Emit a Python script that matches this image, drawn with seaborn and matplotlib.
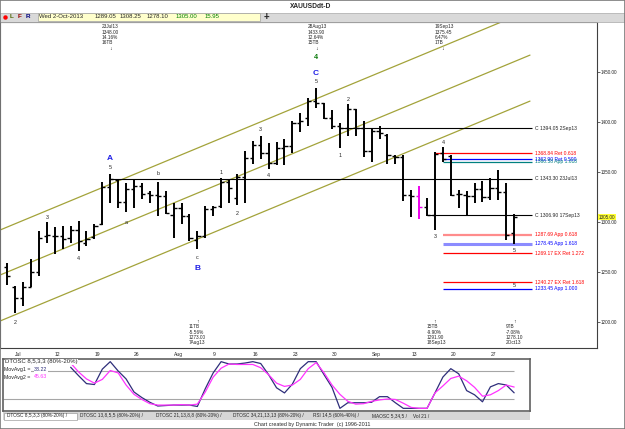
import numpy as np
import pandas as pd
import matplotlib
matplotlib.use("Agg")
import matplotlib.pyplot as plt
import matplotlib.transforms as mtransforms
from matplotlib.patches import Rectangle
from matplotlib.lines import Line2D
import seaborn as sns

sns.set_style("white")
plt.rcParams["font.family"] = ["Liberation Sans", "DejaVu Sans"]

# XAUUSD daily bars, 4 Jul 2013 - 2 Oct 2013
dates = pd.bdate_range("2013-07-04", "2013-10-02")
opens = [1255, 1235, 1224, 1235, 1250, 1286, 1286, 1286, 1284, 1292, 1279, 1285, 1298,
         1335, 1342, 1320, 1333, 1336, 1329, 1327, 1326, 1307, 1314, 1306, 1282, 1286,
         1313, 1316, 1340, 1324, 1345, 1364, 1377, 1369, 1359, 1374, 1376, 1399, 1404,
         1421, 1419, 1404, 1396, 1394, 1413, 1394, 1371, 1391, 1387, 1366, 1365, 1327,
         1326, 1315, 1307, 1369, 1366, 1328, 1327, 1326, 1333, 1325, 1334, 1330, 1289.05]
highs = [1259, 1236, 1240, 1263, 1291, 1300, 1295, 1296, 1296, 1301, 1291, 1298, 1340,
         1348, 1343, 1339, 1342, 1339, 1331, 1340, 1331, 1319, 1319, 1308, 1291, 1316,
         1316, 1344, 1343, 1348, 1371, 1381, 1386, 1379, 1380, 1383, 1401, 1409, 1424,
         1433.9, 1419, 1412, 1399, 1418, 1413, 1401, 1394, 1396, 1388, 1367, 1367, 1332,
         1336, 1324, 1370, 1375.45, 1367, 1332, 1331, 1339, 1341, 1344, 1352, 1339, 1308.25]
lows = [1237, 1209, 1216, 1235, 1246, 1279, 1268, 1273, 1279, 1271, 1276, 1283, 1297,
        1319, 1314, 1310, 1314, 1323, 1319, 1306, 1308, 1284, 1298, 1281, 1273, 1284,
        1306, 1314, 1319, 1317, 1319, 1358, 1363, 1353, 1357, 1357, 1369, 1390, 1396,
        1414, 1403, 1393, 1374, 1386, 1386, 1365, 1360, 1383, 1358, 1358, 1321, 1305,
        1303, 1306, 1291.9, 1360, 1326, 1314, 1306, 1319, 1320, 1322, 1322, 1282, 1278.1]
closes = [1246, 1224, 1235, 1250, 1284, 1287, 1286, 1283, 1292, 1281, 1283, 1296, 1335,
          1343.3, 1320, 1333, 1336, 1328, 1327, 1326, 1309, 1314, 1306, 1284, 1286, 1313,
          1315, 1340, 1334, 1345, 1364, 1377, 1369, 1359, 1374, 1376, 1399, 1401, 1421,
          1419, 1404, 1396, 1394.05, 1413, 1394, 1371, 1391, 1389, 1367, 1365, 1327, 1326,
          1315, 1306.9, 1368, 1363, 1327, 1328, 1326, 1333, 1325, 1334, 1330, 1287, 1305.0]
magenta_day = "2013-09-16"

# DTOSC 8,5,3,3 and its moving average, from 16 Jul
osc_start = "2013-07-16"
dtosc = [88, 70, 53, 51, 84, 100, 80, 63, 35, 23, 13, 5, 6, 7, 7, 7, 4, 42, 76, 100,
         95, 95, 97, 100, 96, 72, 44, 33, 52, 85, 100, 100, 72, 45, 0, 12, 12, 12, 13,
         25, 25, 12, 0, 0, 0, 0, 33, 67, 85, 74, 38, 29, 14, 46, 53, 50, 33.22]
dtosc_avg = [97, 78, 63, 54, 62, 81, 76, 50, 30, 19, 10, 7, 7, 7, 8, 7, 9, 35, 67, 86,
             95, 94, 94, 94, 87, 72, 54, 47, 50, 62, 85, 98, 76, 50, 30, 15, 9, 10, 15,
             18, 20, 19, 11, 2, 0, 0, 33, 48, 64, 69, 59, 45, 26, 29, 38, 50, 45.63]

# date axis
tick_dates = ["2013-07-05", "2013-07-12", "2013-07-19", "2013-07-26", "2013-08-02",
              "2013-08-09", "2013-08-16", "2013-08-23", "2013-08-30", "2013-09-06",
              "2013-09-13", "2013-09-20", "2013-09-27"]
tick_labels = ["Jul", "12", "19", "26", "Aug", "9", "16", "23", "30", "Sep", "13", "20", "27"]
price_ticks = [1200, 1250, 1300, 1350, 1400, 1450]

# trend channel (price at bar -1 and at bar 66)
channel_left = [1292.0, 1247.0, 1201.0]
channel_right = [1512.2, 1467.2, 1421.2]

# closing-price reference lines
close_levels = [("2013-09-02", 1394.05, "C 1394.05 2Sep13"),
                ("2013-07-23", 1343.30, "C 1343.30 23Jul13"),
                ("2013-09-17", 1306.90, "C 1306.90 17Sep13")]
# retracement / projection levels
fib_levels = [("2013-09-18", 1368.84, "1368.84 Ret 0.618", "#ff0000", "#ff0000", 0.9),
              ("2013-09-19", 1362.90, "1362.90 Ret 0.500", "#0000ff", "#0000ff", 0.9),
              ("2013-09-19", 1360.58, "1360.58 App 1.618", "#008080", "#008080", 0.9),
              ("2013-09-19", 1287.69, "1287.69 App 0.618", "#ff8c8c", "#ff0000", 1.6),
              ("2013-09-19", 1278.45, "1278.45 App 1.618", "#8c8cff", "#0000ff", 2.2),
              ("2013-09-19", 1269.17, "1269.17 EX Ret 1.272", "#ff0000", "#ff0000", 0.9),
              ("2013-09-19", 1240.27, "1240.27 EX Ret 1.618", "#ff0000", "#ff0000", 0.9),
              ("2013-09-19", 1233.45, "1233.45 App 1.000", "#0000ff", "#0000ff", 0.9)]

wave_labels = [("2013-07-05", 1200, "2"), ("2013-07-11", 1305, "3"), ("2013-07-17", 1264, "4"),
               ("2013-07-23", 1355, "5"), ("2013-07-25", 1300, "a"), ("2013-07-31", 1349, "b"),
               ("2013-08-07", 1265, "c"), ("2013-08-12", 1350, "1"), ("2013-08-14", 1309, "2"),
               ("2013-08-19", 1393, "3"), ("2013-08-20", 1347, "4"), ("2013-08-28", 1441, "5"),
               ("2013-09-02", 1367, "1"), ("2013-09-03", 1423, "2"), ("2013-09-18", 1286, "3"),
               ("2013-09-19", 1380, "4"), ("2013-10-02", 1272, "5"), ("2013-10-02", 1237, "5")]
abc_labels = [("2013-07-23", 1364, "A"), ("2013-08-07", 1254, "B"), ("2013-08-28", 1449, "C")]

top_notes = [("2013-07-23", ["23Jul13", "1348.00", "14.16%", "16TB"]),
             ("2013-08-28", ["28Aug13", "1433.90", "12.64%", "15TB"]),
             ("2013-09-19", ["19Sep13", "1375.45", "6.47%", "1TB"])]
bottom_notes = [("2013-08-07", ["11TB", "-5.56%", "1273.00", "7Aug13"]),
                ("2013-09-18", ["15TB", "-9.90%", "1291.90", "18Sep13"]),
                ("2013-10-02", ["9TB", "-7.08%", "1278.10", "2Oct13"])]

tabs = ["DTOSC 8,5,3,3 (80%-20%)", "DTOSC 13,8,5,5 (80%-20%)", "DTOSC 21,13,8,8 (80%-20%)",
        "DTOSC 34,21,13,13 (80%-20%)", "RSI 14,5 (60%-40%)", "MAOSC 5,34,5", "Vol 21"]
tab_x = [7, 80, 156, 233, 313, 372, 413]

# ---------------------------------------------------------------- layout
W, H = 625, 429
fig = plt.figure(figsize=(W / 100, H / 100), dpi=100)
fig.patch.set_facecolor("white")


def fy(py):
    return 1 - py / H


def ftext(px, py, s, **kw):
    kw.setdefault("va", "center")
    return fig.text(px / W, fy(py), s, **kw)


def bar_pos(d):
    return dates.get_loc(pd.Timestamp(d))


# title row and toolbar
fig.add_artist(Rectangle((0, fy(21.5)), 1, 9 / H, transform=fig.transFigure,
                         facecolor="#d9d9d9", edgecolor="#a8a8a8", lw=0.5))
fig.add_artist(Rectangle((37.7 / W, fy(20.7)), 222.3 / W, 7.4 / H, transform=fig.transFigure,
                         facecolor="#ffffcc", edgecolor="#a0a0a0", lw=0.5))
ftext(311, 6.5, "XAUUSDdt-D", ha="center", fontsize=4.8, fontweight="bold")
fig.add_artist(Line2D([5 / W], [fy(17)], marker="o", ms=2.2, color="red",
                      transform=fig.transFigure))
ftext(11.7, 17, "L", ha="center", fontsize=4.6, fontweight="bold", color="#4d6600")
ftext(20, 17, "F", ha="center", fontsize=4.6, fontweight="bold", color="#990000")
ftext(28.3, 17, "R", ha="center", fontsize=4.6, fontweight="bold", color="#000080")
ftext(39.3, 17, "Wed 2-Oct-2013", fontsize=4.3)
ftext(95, 17, f"{opens[-1]:.2f}", fontsize=4.3)
ftext(120, 17, f"{highs[-1]:.2f}", fontsize=4.3)
ftext(146.7, 17, f"{lows[-1]:.2f}", fontsize=4.3)
ftext(175.7, 17, f"{closes[-1]:.2f}", fontsize=4.3, color="#008000")
ftext(205, 17, f"{closes[-1] - opens[-1]:.2f}", fontsize=4.3, color="#008000")
ftext(266.7, 17, "+", ha="center", fontsize=7, fontweight="bold")

# ---------------------------------------------------------------- price panel
ax = fig.add_axes([0, fy(348), 597 / W, 326 / H])
ax.set_xlim(-0.92, 74.46)
ax.set_ylim(1174.3, 1500.3)
pos = np.arange(len(dates))

# channel
for a, b in zip(channel_left, channel_right):
    ax.plot([-1, 66.0], [a, b], color="#a3a33a", lw=0.9, zorder=1)

line_end = 66.25
label_x = 66.6
for d, lvl, txt in close_levels:
    ax.hlines(lvl, bar_pos(d), line_end, color="black", lw=0.8, zorder=1)
    ax.text(label_x, lvl, txt, fontsize=3.6, va="center", ha="left")
for d, lvl, txt, lc, tc, lw in fib_levels:
    ax.hlines(lvl, bar_pos(d), line_end, color=lc, lw=lw, zorder=1)
    ax.text(label_x, lvl, txt, fontsize=3.6, va="center", ha="left", color=tc)

# OHLC bars
tick = 0.4
bar_colors = ["#ee00ee" if d == pd.Timestamp(magenta_day) else "black" for d in dates]
ax.vlines(pos, lows, highs, colors=bar_colors, lw=1.4, zorder=3)
ax.hlines(opens, pos - tick, pos, colors=bar_colors, lw=1.0, zorder=3)
ax.hlines(closes, pos, pos + tick, colors=bar_colors, lw=1.0, zorder=3)

for d, p, s in wave_labels:
    ax.text(bar_pos(d), p, s, fontsize=3.9, ha="center", va="center")
for d, p, s in abc_labels:
    ax.text(bar_pos(d), p, s, fontsize=6, ha="center", va="center",
            color="#1f1fe6", fontweight="bold")
ax.text(bar_pos("2013-08-28"), 1465, "4", fontsize=5.2, ha="center", va="center",
        color="#0a7a0a", fontweight="bold")

# swing notes
bt = mtransforms.blended_transform_factory(ax.transData, fig.transFigure)
for d, lines in top_notes:
    x = bar_pos(d)
    for i, s in enumerate(lines):
        ax.text(x - 1.07, fy(26.7 + 5.3 * i), s, transform=bt, fontsize=3.4,
                ha="left", va="center")
    ax.text(x, fy(48), "↓", transform=bt, fontsize=3.8, ha="center", va="center")
for d, lines in bottom_notes:
    x = bar_pos(d)
    ax.text(x, fy(321.5), "↑", transform=bt, fontsize=3.8, ha="center", va="center")
    for i, s in enumerate(lines):
        ax.text(x - 1.07, fy(326.7 + 5.4 * i), s, transform=bt, fontsize=3.4,
                ha="left", va="center")

# axes styling
ax.set_xticks([bar_pos(d) for d in tick_dates])
ax.set_xticklabels(tick_labels)
for lbl in ax.get_xticklabels():
    lbl.set_ha("left")
ax.yaxis.tick_right()
ax.set_yticks(price_ticks)
ax.set_yticklabels([f"{t:.2f}" for t in price_ticks])
ax.tick_params(axis="x", direction="out", length=2, width=0.5, pad=1, labelsize=3.6)
ax.tick_params(axis="y", direction="out", length=2, width=0.5, pad=1, labelsize=3.3,
               right=True, left=False)
for sp in ax.spines.values():
    sp.set_color("#404040")
    sp.set_linewidth(0.8)
yt = mtransforms.blended_transform_factory(ax.transAxes, ax.transData)
ax.text(1.003, closes[-1], f"{closes[-1]:.2f}", transform=yt, fontsize=3.3, va="center",
        ha="left", bbox=dict(boxstyle="square,pad=0.15", fc="#ffff33", ec="none"))

# ---------------------------------------------------------------- oscillator panel
ax2 = fig.add_axes([3 / W, fy(411), 527 / W, 52 / H])
ax2.set_xlim(-0.54, 66.0)
ax2.set_ylim(-5.7, 105.7)
osc_pos = np.arange(bar_pos(osc_start), bar_pos(osc_start) + len(dtosc))
ax2.hlines([80, 20], -0.6, 64, color="#a6a6a6", lw=0.8)
sns.lineplot(x=osc_pos, y=dtosc, ax=ax2, color="#2e2e7a", lw=0.9)
sns.lineplot(x=osc_pos, y=dtosc_avg, ax=ax2, color="#ff33ff", lw=0.9)
ax2.set_xticks([])
ax2.set_yticks([])
ax2.set_xlabel("")
ax2.set_ylabel("")
for sp in ax2.spines.values():
    sp.set_color("#606060")
    sp.set_linewidth(1.2)

box = dict(boxstyle="square,pad=0.05", fc="white", ec="none")
ftext(5, 362, "DTOSC 8,5,3,3 (80%-20%)", fontsize=4.3, bbox=box)
ftext(4, 369.8, "MovAvg1 =", fontsize=3.8, bbox=box)
ftext(34, 369.8, f"{dtosc[-1]:.2f}", fontsize=3.8, color="#2e2e7a", bbox=box)
ftext(4, 377, "MovAvg2 =", fontsize=3.8, bbox=box)
ftext(34, 377, f"{dtosc_avg[-1]:.2f}", fontsize=3.8, color="#ff33ff")

# tabs and footer
fig.add_artist(Rectangle((3 / W, fy(420)), 527 / W, 8 / H, transform=fig.transFigure,
                         facecolor="#d6d6d6", edgecolor="none"))
fig.add_artist(Rectangle((4 / W, fy(419.5)), 73 / W, 7 / H, transform=fig.transFigure,
                         facecolor="white", edgecolor="#888888", lw=0.4))
for x, s in zip(tab_x, tabs):
    ftext(x, 416, s + " /", fontsize=3.4)
ftext(312, 424.5, "Chart created by Dynamic Trader  (c) 1996-2011", ha="center", fontsize=3.9)

fig.add_artist(Rectangle((0, 0), 1, 1, transform=fig.transFigure, fill=False,
                         edgecolor="#7a7a7a", lw=1.2))

fig.savefig("out.png", dpi=100)
